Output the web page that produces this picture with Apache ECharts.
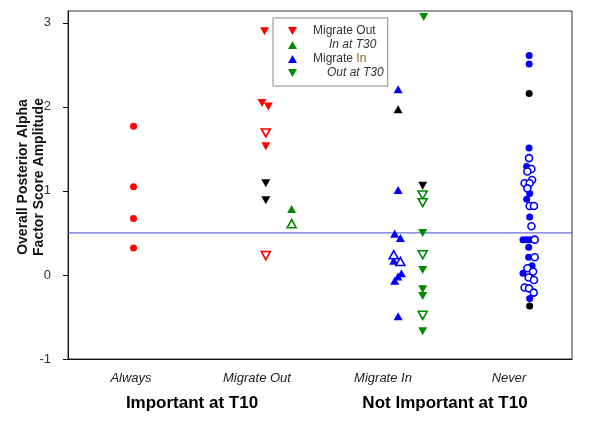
<!DOCTYPE html>
<html>
<head>
<meta charset="utf-8">
<script src="https://cdn.jsdelivr.net/npm/echarts@6/dist/echarts.min.js"></script>
<style>html,body{margin:0;padding:0;background:#fff;}#c{width:604px;height:421px;}</style>
</head>
<body>
<div id="c"></div>
<script>
// ---- data ----
const categories = ['Always', 'Migrate Out', 'Migrate In', 'Never'];
const groupLabels = ['Important at T10', 'Not Important at T10'];
const yTicks = [-1, 0, 1, 2, 3];
const refLine = 0.5;
const xRange = [0.5, 4.5];

// [category position (with jitter), amplitude]
const alwaysRed = [[1.02, 1.77], [1.02, 1.05], [1.02, 0.67], [1.02, 0.32]];

const outRedFilled = [[2.06, 2.90], [2.04, 2.045], [2.09, 2.005], [2.07, 1.53]];
const outRedOpen = [[2.07, 1.69], [2.07, 0.23]];
const outBlack = [[2.07, 1.09], [2.07, 0.89]];
const outGreenFilled = [[2.275, 0.785]];
const outGreenOpen = [[2.275, 0.61]];

const inBlueFilled = [[3.12, 2.21], [3.12, 1.01], [3.093, 0.49], [3.138, 0.44], [3.085, 0.17],
  [3.146, 0.02], [3.119, -0.02], [3.093, -0.07], [3.12, -0.49]];
const inBlueOpen = [[3.085, 0.24], [3.138, 0.16]];
const inBlackUp = [[3.12, 1.97]];
const inGreenFilled = [[3.323, 3.068], [3.315, 0.50], [3.315, 0.06], [3.315, -0.17], [3.315, -0.25], [3.315, -0.67]];
const inGreenOpen = [[3.315, 0.95], [3.315, 0.86], [3.315, 0.24], [3.315, -0.48]];
const inBlackDown = [[3.315, 1.06]];

const neverFilled = [[4.16, 2.61], [4.16, 2.51], [4.159, 1.51], [4.140, 1.29], [4.164, 0.97], [4.140, 0.90],
  [4.164, 0.69], [4.111, 0.42], [4.138, 0.42], [4.164, 0.42], [4.156, 0.33], [4.156, 0.21],
  [4.183, 0.11], [4.111, 0.02], [4.164, -0.28]];
const neverOpen = [[4.159, 1.39], [4.178, 1.26], [4.146, 1.23], [4.183, 1.13], [4.124, 1.09], [4.164, 1.09],
  [4.146, 1.03], [4.164, 0.82], [4.198, 0.82], [4.178, 0.58], [4.204, 0.42], [4.204, 0.21],
  [4.146, 0.08], [4.191, 0.04], [4.156, -0.03], [4.198, -0.06], [4.124, -0.15], [4.159, -0.16], [4.196, -0.21]];
const neverBlack = [[4.16, 2.16], [4.164, -0.37]];

// ---- styles ----
const RED = '#ff0000', GREEN = '#008a00', BLUE = '#0000ff', BLACK = '#000000';
const FONT = '"Liberation Sans", Arial, sans-serif';
const TRI = [9, 8];
const DOT = 7;
const UP_ICON = 'path://M5,0L10,9L0,9Z';
const DOWN_ICON = 'path://M0,0L10,0L5,9Z';

function sc(name, data, color, opts) {
  opts = opts || {};
  const open = !!opts.open;
  return {
    name: name,
    type: 'scatter',
    xAxisIndex: 1,
    data: data,
    symbol: opts.symbol || 'triangle',
    symbolSize: opts.size || TRI,
    symbolRotate: opts.down ? 180 : 0,
    itemStyle: open
      ? { color: '#ffffff', borderColor: color, borderWidth: 1.6, opacity: 1 }
      : { color: color, borderColor: color, borderWidth: 0, opacity: 1 },
    emphasis: { disabled: true },
    z: opts.z || 3
  };
}

const chart = echarts.init(document.getElementById('c'), null, { renderer: 'canvas' });

const option = {
  animation: false,
  backgroundColor: '#ffffff',
  grid: { left: 68, right: 32, top: 11, bottom: 62, show: true, borderColor: '#333', borderWidth: 1, backgroundColor: 'transparent' },
  xAxis: [
    {
      type: 'category',
      data: categories,
      boundaryGap: true,
      axisLine: { onZero: false, lineStyle: { color: '#111', width: 1 } },
      axisTick: { alignWithLabel: true, length: 5, lineStyle: { color: '#111' } },
      axisLabel: { fontFamily: FONT, fontSize: 13, fontStyle: 'italic', color: '#222', margin: 13 },
      splitLine: { show: false }
    },
    { type: 'value', min: xRange[0], max: xRange[1], show: false }
  ],
  yAxis: {
    type: 'value',
    min: -1,
    max: 3.14,
    axisLine: { show: true, onZero: false, lineStyle: { color: '#111', width: 1 } },
    axisTick: { show: true, length: 5, customValues: yTicks, lineStyle: { color: '#111' } },
    axisLabel: { customValues: yTicks, fontFamily: FONT, fontSize: 13, color: '#333', margin: 17 },
    splitLine: { show: false }
  },
  legend: {
    left: 273,
    top: 18,
    orient: 'vertical',
    selectedMode: false,
    backgroundColor: '#fff',
    borderColor: '#888',
    borderWidth: 1,
    padding: [6, 4, 6, 15],
    itemWidth: 9,
    itemHeight: 9,
    itemGap: 0,
    textStyle: {
      fontFamily: FONT, fontSize: 12, color: '#333', lineHeight: 14, padding: [0, 0, 0, 11],
      rich: { h: { fontFamily: FONT, fontSize: 12, color: '#8a6a20', lineHeight: 14 } }
    },
    formatter: function (n) { return n === 'Migrate In' ? 'Migrate {h|In}' : n; },
    data: [
      { name: 'Migrate Out', icon: DOWN_ICON },
      { name: 'In at T30', icon: UP_ICON, textStyle: { fontStyle: 'italic', padding: [0, 0, 0, 27] } },
      { name: 'Migrate In', icon: UP_ICON },
      { name: 'Out at T30', icon: DOWN_ICON, textStyle: { fontStyle: 'italic', padding: [0, 0, 0, 25] } }
    ]
  },
  graphic: [
    {
      type: 'text', x: 31, y: 177, rotation: Math.PI / 2, silent: true,
      style: {
        text: 'Overall Posterior Alpha\nFactor Score Amplitude',
        fontFamily: FONT, fontSize: 14, fontWeight: 'bold', lineHeight: 16,
        fill: '#111', align: 'center', verticalAlign: 'middle'
      }
    },
    {
      type: 'text', x: 192, y: 403, silent: true,
      style: { text: groupLabels[0], fontFamily: FONT, fontSize: 17, fontWeight: 'bold', fill: '#000', align: 'center', verticalAlign: 'middle' }
    },
    {
      type: 'text', x: 445, y: 403, silent: true,
      style: { text: groupLabels[1], fontFamily: FONT, fontSize: 17, fontWeight: 'bold', fill: '#000', align: 'center', verticalAlign: 'middle' }
    }
  ],
  series: [
    {
      name: 'ref', type: 'line', xAxisIndex: 1, z: 1, silent: true,
      data: [[xRange[0], refLine], [xRange[1], refLine]],
      symbol: 'none',
      lineStyle: { color: '#4848d0', width: 1, type: 'solid' },
      itemStyle: { color: '#4848d0' },
      emphasis: { disabled: true }
    },
    sc('Migrate Out', outRedFilled, RED, { down: true }),
    sc('In at T30', outGreenFilled, GREEN, {}),
    sc('Migrate In', inBlueFilled, BLUE, {}),
    sc('Out at T30', inGreenFilled, GREEN, { down: true }),
    sc('Always', alwaysRed, RED, { symbol: 'circle', size: DOT }),
    sc('Migrate Out open', outRedOpen, RED, { down: true, open: true }),
    sc('Migrate Out black', outBlack, BLACK, { down: true }),
    sc('In at T30 open', outGreenOpen, GREEN, { open: true }),
    sc('Migrate In open', inBlueOpen, BLUE, { open: true }),
    sc('Migrate In black', inBlackUp, BLACK, {}),
    sc('Out at T30 open', inGreenOpen, GREEN, { down: true, open: true }),
    sc('Out at T30 black', inBlackDown, BLACK, { down: true }),
    sc('Never', neverFilled, BLUE, { symbol: 'circle', size: DOT }),
    sc('Never open', neverOpen, BLUE, { symbol: 'circle', size: DOT, open: true }),
    sc('Never black', neverBlack, BLACK, { symbol: 'circle', size: DOT })
  ]
};

chart.setOption(option);
</script>
</body>
</html>
